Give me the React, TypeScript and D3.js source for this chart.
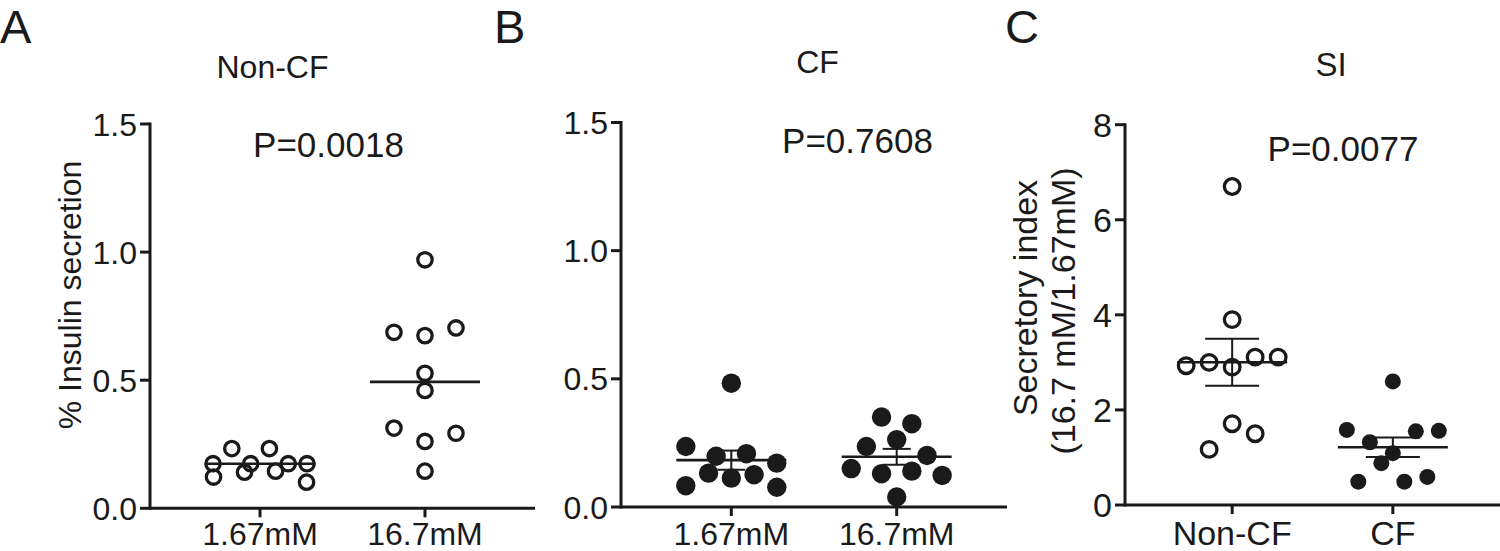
import React from 'react'
import * as d3 from 'd3'

// groups on the x axes
const doseGroups = ['1.67mM', '16.7mM']
const siGroups = ['Non-CF', 'CF']

// % insulin secretion, non-CF islets
const nonCfLow = [0.122, 0.141, 0.145, 0.102, 0.174, 0.233, 0.174, 0.233, 0.174, 0.174]
const nonCfHigh = [0.97, 0.687, 0.674, 0.704, 0.527, 0.46, 0.313, 0.261, 0.293, 0.145]
// % insulin secretion, CF islets
const cfLow = [0.483, 0.236, 0.198, 0.208, 0.171, 0.083, 0.132, 0.113, 0.126, 0.077]
const cfHigh = [0.351, 0.325, 0.236, 0.263, 0.201, 0.15, 0.13, 0.14, 0.123, 0.039]
// secretory index
const siNonCf = [6.7, 3.9, 2.93, 3.0, 2.9, 3.11, 3.11, 1.17, 1.71, 1.5]
const siCf = [2.6, 1.58, 1.32, 1.09, 1.55, 1.56, 0.49, 0.88, 0.49, 0.59]

const ticksPct = [0, 0.5, 1.0, 1.5]
const ticksSi = [0, 2, 4, 6, 8]
const panelLetters = ['A', 'B', 'C']
const panelTitles = ['Non-CF', 'CF', 'SI']
const pLabels = ['P=0.0018', 'P=0.7608', 'P=0.0077']

const FONT = '"Liberation Sans", Arial, Helvetica, sans-serif'
const INK = '#1a1a1a'

// GraphPad-like scatter: bin points in rows, spread each row sideways
function swarm(values: number[], y: (v: number) => number, rowH: number, maxStep: number, maxWidth: number) {
  const idx = d3.range(values.length).sort((a, b) => values[a] - values[b])
  const offsets = new Array(values.length).fill(0)
  let i = 0
  while (i < idx.length) {
    const start = y(values[idx[i]])
    const row: number[] = []
    while (i < idx.length && start - y(values[idx[i]]) <= rowH) {
      row.push(idx[i])
      i++
    }
    row.sort((a, b) => a - b)
    const step = row.length > 1 ? Math.min(maxStep, maxWidth / (row.length - 1)) : 0
    row.forEach((k, j) => {
      offsets[k] = (j - (row.length - 1) / 2) * step
    })
  }
  return offsets
}

type Series = { values: number[]; filled: boolean; r: number }

type PanelProps = {
  idx: number
  axisX: number
  axisEnd: number
  yZero: number
  yTop: number
  yMax: number
  ticks: number[]
  tickFmt: (d: number) => string
  groups: string[]
  series: Series[]
  summary: 'median' | 'sem'
  capHalf: number
  rowH: number
  maxStep: number
  maxWidth: number
  fontSize: number
  titleSize: number
  title: [number, number]
  pPos: [number, number]
  letterX: number
  yTitle?: { lines: string[]; xs: number[]; ys: number[] }
}

const Panel = (p: PanelProps) => {
  const y = d3.scaleLinear().domain([0, p.yMax]).range([p.yZero, p.yTop])
  const x = d3.scalePoint().domain(p.groups).range([p.axisX, p.axisEnd]).padding(0.667)

  return (
    <g>
      <text x={p.letterX} y={43} fontSize={47} fontFamily={FONT} fill={INK}>
        {panelLetters[p.idx]}
      </text>
      <text x={p.title[0]} y={p.title[1]} fontSize={p.titleSize} fontFamily={FONT} fill={INK} textAnchor="middle">
        {panelTitles[p.idx]}
      </text>
      <text x={p.pPos[0]} y={p.pPos[1]} fontSize={35} fontFamily={FONT} fill={INK} textAnchor="middle">
        {pLabels[p.idx]}
      </text>

      {/* y axis */}
      <line x1={p.axisX} x2={p.axisX} y1={y(p.yMax) - 1.5} y2={p.yZero + 1.5} stroke={INK} strokeWidth={3} />
      {p.ticks.map((t) => (
        <g key={t}>
          <line x1={p.axisX - 10} x2={p.axisX} y1={y(t)} y2={y(t)} stroke={INK} strokeWidth={3} />
          <text
            x={p.axisX - 13}
            y={y(t)}
            dy="0.36em"
            textAnchor="end"
            fontSize={p.fontSize}
            fontFamily={FONT}
            fill={INK}
          >
            {p.tickFmt(t)}
          </text>
        </g>
      ))}

      {/* x axis */}
      <line x1={p.axisX} x2={p.axisEnd} y1={p.yZero} y2={p.yZero} stroke={INK} strokeWidth={3} />
      {p.groups.map((g) => (
        <g key={g}>
          <line x1={x(g)} x2={x(g)} y1={p.yZero} y2={p.yZero + 9} stroke={INK} strokeWidth={3} />
          <text x={x(g)} y={545} textAnchor="middle" fontSize={p.fontSize} fontFamily={FONT} fill={INK}>
            {g}
          </text>
        </g>
      ))}

      {p.yTitle &&
        p.yTitle.lines.map((l, i) => (
          <text
            key={l}
            transform={`translate(${p.yTitle!.xs[i]},${p.yTitle!.ys[i]}) rotate(-90)`}
            textAnchor="middle"
            fontSize={p.fontSize}
            fontFamily={FONT}
            fill={INK}
          >
            {l}
          </text>
        ))}

      {p.series.map((s, si) => {
        const cx = x(p.groups[si]) as number
        const off = swarm(s.values, y, p.rowH, p.maxStep, p.maxWidth)
        const center = p.summary === 'median' ? (d3.median(s.values) as number) : (d3.mean(s.values) as number)
        const sem = (d3.deviation(s.values) as number) / Math.sqrt(s.values.length)
        return (
          <g key={si}>
            {s.values.map((v, i) =>
              s.filled ? (
                <circle key={i} cx={cx + off[i]} cy={y(v)} r={s.r} fill={INK} />
              ) : (
                <circle key={i} cx={cx + off[i]} cy={y(v)} r={s.r} fill="none" stroke={INK} strokeWidth={3.3} />
              )
            )}
            <line x1={cx - 55} x2={cx + 55} y1={y(center)} y2={y(center)} stroke={INK} strokeWidth={2.6} />
            {p.summary === 'sem' && (
              <g stroke={INK} strokeWidth={2}>
                <line x1={cx} x2={cx} y1={y(center - sem)} y2={y(center + sem)} />
                <line x1={cx - p.capHalf} x2={cx + p.capHalf} y1={y(center + sem)} y2={y(center + sem)} />
                <line x1={cx - p.capHalf} x2={cx + p.capHalf} y1={y(center - sem)} y2={y(center - sem)} />
              </g>
            )}
          </g>
        )
      })}
    </g>
  )
}

const fmt1 = d3.format('.1f')

export default function App() {
  return (
    <svg
      width={1500}
      height={551}
      style={{ position: 'absolute', left: 0, top: 0, background: '#fff' }}
    >
      <rect width={1500} height={551} fill="#fff" />
      <Panel
        idx={0}
        axisX={150}
        axisEnd={535}
        yZero={508.3}
        yTop={124}
        yMax={1.5}
        ticks={ticksPct}
        tickFmt={fmt1}
        groups={doseGroups}
        series={[
          { values: nonCfLow, filled: false, r: 7.2 },
          { values: nonCfHigh, filled: false, r: 7.2 }
        ]}
        summary="median"
        capHalf={0}
        rowH={16.5}
        maxStep={31}
        maxWidth={94}
        fontSize={32}
        titleSize={32}
        title={[272.5, 78]}
        pPos={[328.5, 157]}
        letterX={0}
        yTitle={{ lines: ['% Insulin secretion'], xs: [81], ys: [295] }}
      />
      <Panel
        idx={1}
        axisX={621}
        axisEnd={1007}
        yZero={507}
        yTop={122.5}
        yMax={1.5}
        ticks={ticksPct}
        tickFmt={fmt1}
        groups={doseGroups}
        series={[
          { values: cfLow, filled: true, r: 9.7 },
          { values: cfHigh, filled: true, r: 9.7 }
        ]}
        summary="sem"
        capHalf={14}
        rowH={19.5}
        maxStep={30.3}
        maxWidth={91}
        fontSize={32}
        titleSize={32}
        title={[817.5, 73]}
        pPos={[857.5, 153]}
        letterX={494}
      />
      <Panel
        idx={2}
        axisX={1125}
        axisEnd={1500}
        yZero={505}
        yTop={124.7}
        yMax={8}
        ticks={ticksSi}
        tickFmt={(d) => String(d)}
        groups={siGroups}
        series={[
          { values: siNonCf, filled: false, r: 7.8 },
          { values: siCf, filled: true, r: 8 }
        ]}
        summary="sem"
        capHalf={27}
        rowH={26}
        maxStep={23}
        maxWidth={92}
        fontSize={34}
        titleSize={33}
        title={[1331, 76]}
        pPos={[1343, 161]}
        letterX={1005}
        yTitle={{ lines: ['Secretory index', '(16.7 mM/1.67mM)'], xs: [1037, 1075], ys: [298, 311] }}
      />
    </svg>
  )
}
